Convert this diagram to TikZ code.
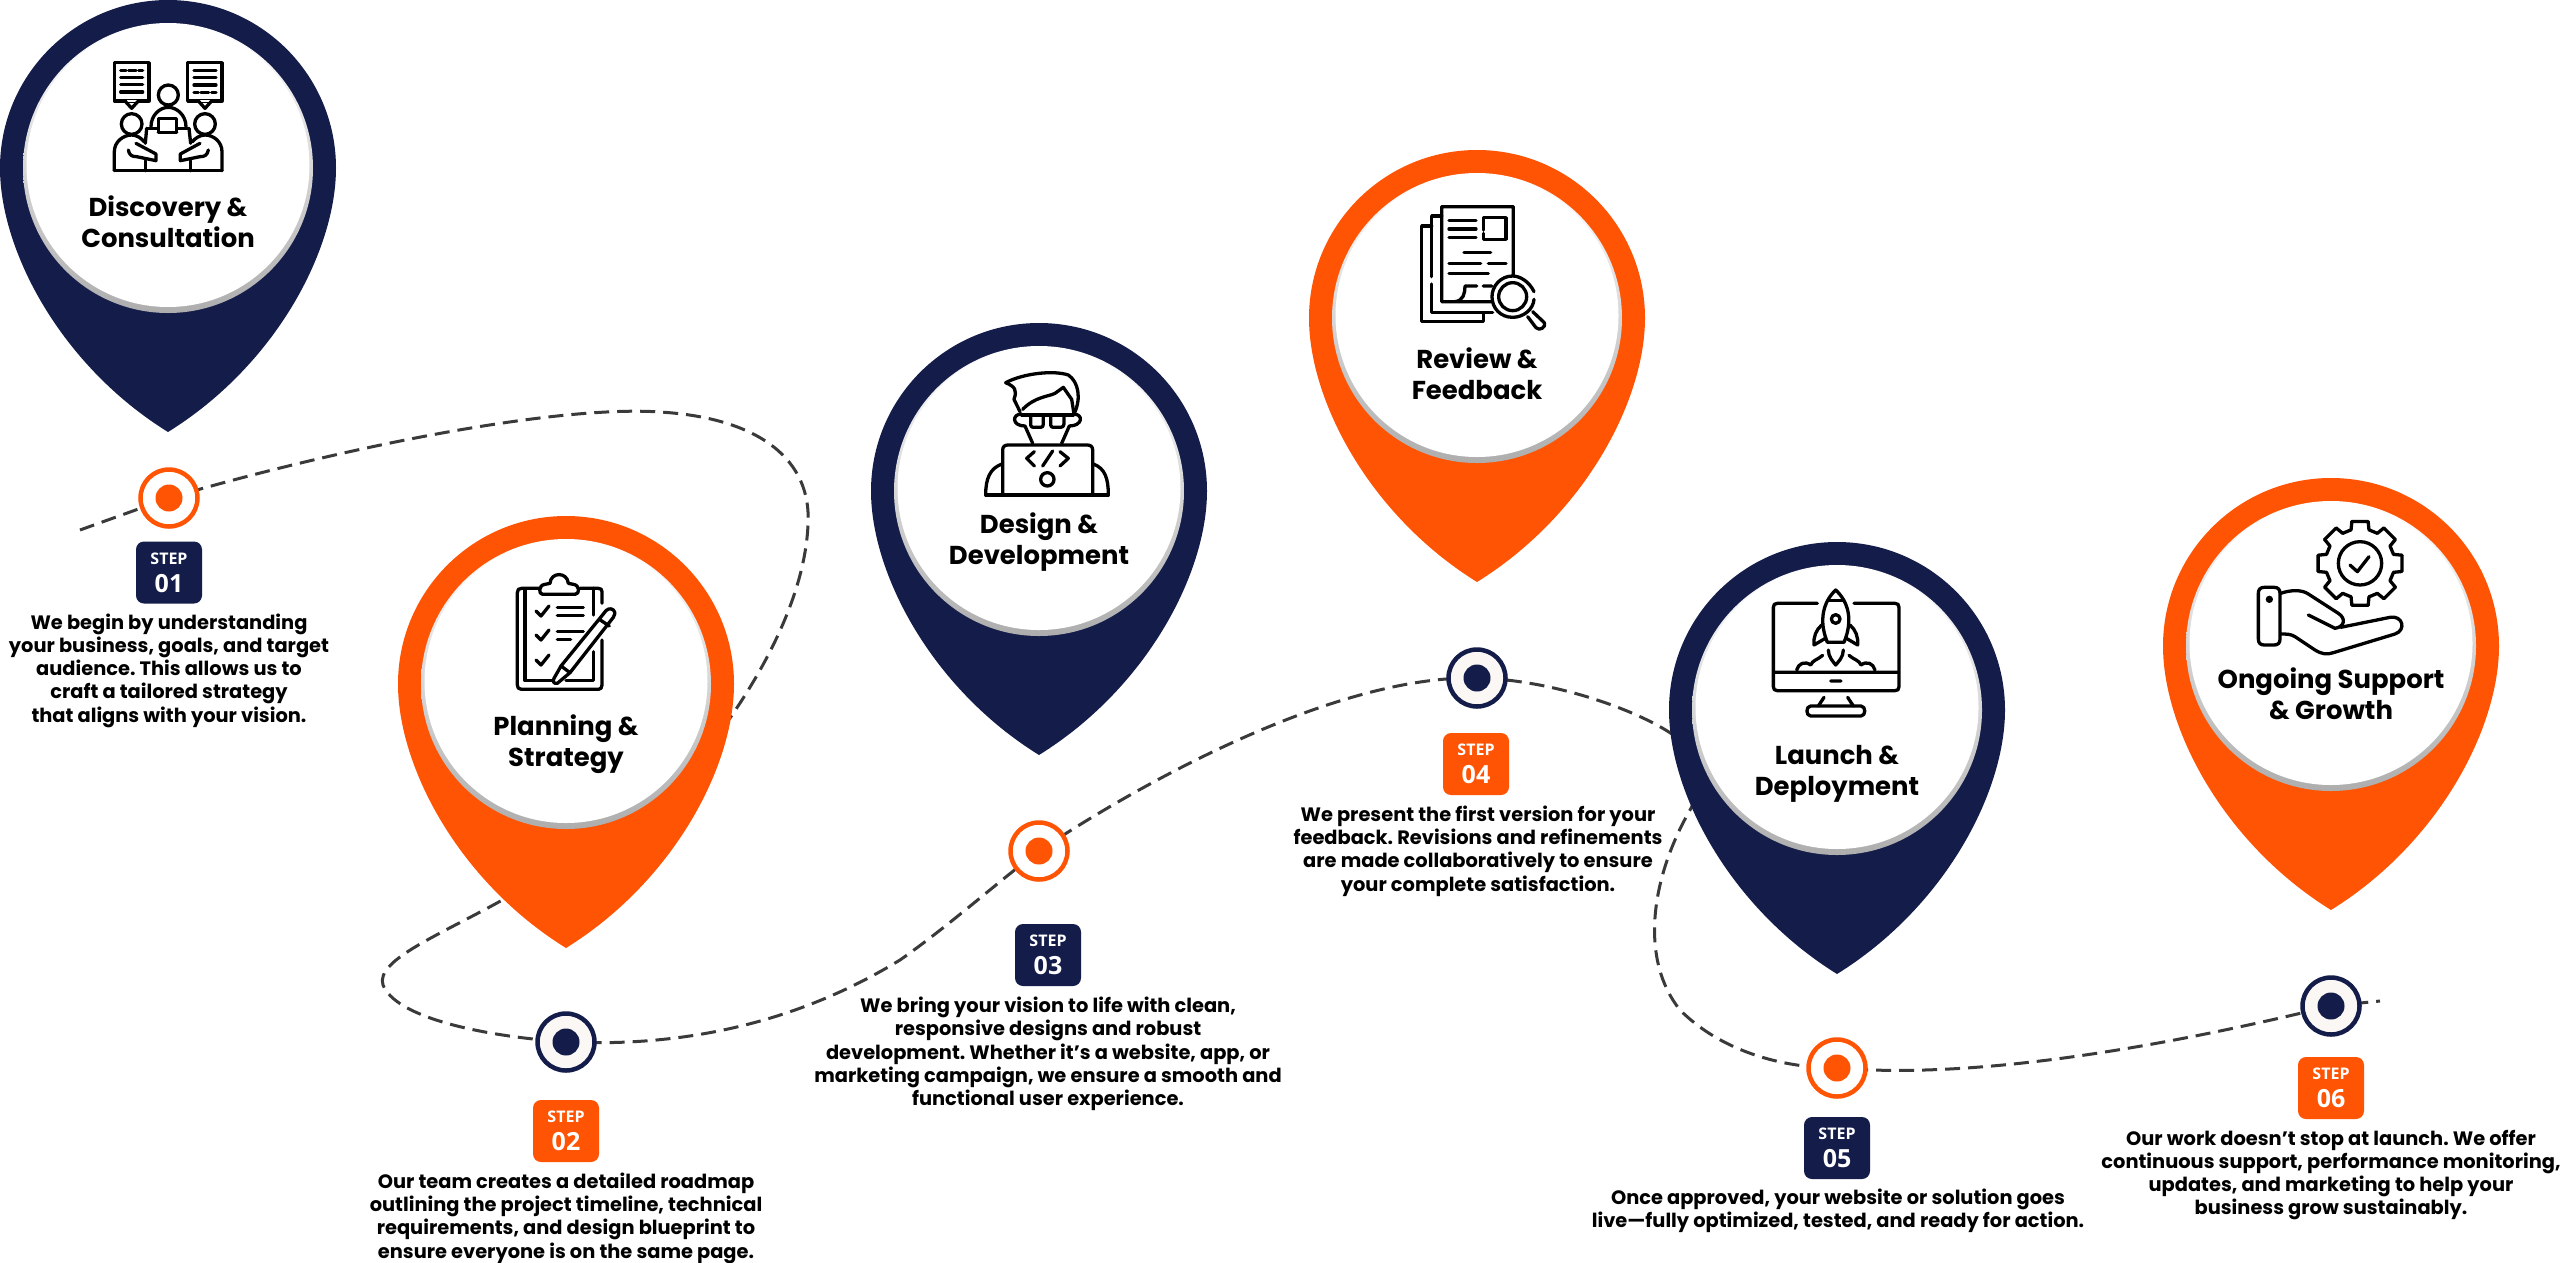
\documentclass[tikz,border=0pt]{standalone}
\usepackage{fontspec}
\setmainfont{Poppins}
\newfontfamily\badgefont{Open Sans}
\usetikzlibrary{backgrounds}
\definecolor{navy}{HTML}{141D4A}
\definecolor{flame}{HTML}{FF5404}
\definecolor{dashgrey}{HTML}{3A3A3A}
\definecolor{dotpaper}{HTML}{FAF7F5}
\tikzset{
  x=1pt,y=-1pt,
  ticon/.style={line width=3.3pt,line cap=round,line join=round,draw=black},
  iconfine/.style={x=0.33333pt,y=-0.33333pt},
  pintitle/.style={align=center,inner sep=0pt,text=black,font=\fontsize{25.9}{31}\selectfont\bfseries\frenchspacing},
  bodytext/.style={align=center,inner sep=0pt,text=black,font=\fontsize{19.4}{23.3}\selectfont\bfseries\frenchspacing},
  stepbadge/.style={rounded corners=8pt,minimum width=66pt,minimum height=62pt,inner sep=0pt,fill=#1,text=white,align=center},
  ringdot/.style={circle,draw=#1,line width=4.5pt,minimum size=57pt,inner sep=0pt},
  coredot/.style={circle,fill=#1,minimum size=27pt,inner sep=0pt},
  trail/.style={draw=dashgrey,line width=3pt,dash pattern=on 15pt off 8pt}
}
\newcommand{\mypin}[3]{%
  \begin{scope}[shift={(#1,#2)}]
    \fill[#3] (-168,0) .. controls (-168,-92.8) and (-92.8,-168) .. (0,-168)
      .. controls (92.8,-168) and (168,-92.8) .. (168,0)
      .. controls (168,82) and (108,197) .. (0,264)
      .. controls (-108,197) and (-168,82) .. (-168,0) -- cycle;
    \shade[top color=white,middle color=white!92!black,bottom color=black!32] (0,0) circle[radius=145];
    \fill[white] (0,-2.5) circle[radius=141.5];
  \end{scope}}
\newcommand{\stepbadgetext}[1]{\badgefont\bfseries\fontsize{16}{17}\selectfont STEP\\[9pt]\badgefont\bfseries\fontsize{25}{25}\selectfont #1}
\begin{document}
\begin{tikzpicture}
\useasboundingbox (0,0) rectangle (2560,1262);
% pins
\mypin{168}{168}{navy}
\mypin{566}{684}{flame}
\mypin{1039}{491}{navy}
\mypin{1477}{318}{flame}
\mypin{1837}{710}{navy}
\mypin{2331}{646}{flame}
% titles
\node[pintitle] (t1) at (168,222) {Discovery \&\\Consultation};
\node[pintitle] (t2) at (566,744) {Planning \&\\Strategy};
\node[pintitle] (t3) at (1039,542) {Design \&\\Development};
\node[pintitle] (t4) at (1477,374) {Review \&\\Feedback};
\node[pintitle] (t5) at (1837,774) {Launch \&\\Deployment};
\node[pintitle] (t6) at (2331,694) {Ongoing Support\\\& Growth};
% icon 1
\begin{scope}[shift={(0,0)},iconfine]
\draw[ticon] (343,188) rectangle (447,303);
\fill[white] (380,300) rectangle (410,306);
\draw[ticon] (375,303) -- (395,325) -- (415,303);
\draw[ticon] (362,212) -- (378,212) (386,212) -- (408,212) (416,212) -- (428,212)
  (362,232) -- (428,232) (362,254) -- (428,254) (362,276) -- (428,276);
\draw[ticon] (563,188) rectangle (666,303);
\fill[white] (600,300) rectangle (630,306);
\draw[ticon] (595,303) -- (615,325) -- (635,303);
\draw[ticon] (582,212) -- (648,212) (582,232) -- (648,232) (582,255) -- (648,255)
  (582,278) -- (595,278) (603,278) -- (626,278) (635,278) -- (648,278);
\draw[ticon] (505,285) circle[radius=30];
\draw[ticon] (453,380) .. controls (453,345) and (480,322) .. (505,322) .. controls (530,322) and (558,345) .. (558,380);
\draw[ticon] (475,355) -- (530,355) -- (530,397) -- (475,397) -- cycle;
\draw[ticon] (440,385) -- (470,385) (535,385) -- (567,385) (475,397) -- (530,397);
\draw[ticon] (440,385) -- (436,430) (567,385) -- (572,430);
\draw[ticon] (395,372) circle[radius=31];
\draw[ticon] (615,372) circle[radius=31];
\draw[ticon] (343,512) -- (343,455) .. controls (343,425) and (370,405) .. (395,405) .. controls (410,405) and (425,415) .. (432,425);
\draw[ticon] (666,512) -- (666,455) .. controls (666,425) and (640,405) .. (615,405) .. controls (600,405) and (585,415) .. (577,425);
\draw[ticon] (343,512) -- (666,512);
\draw[ticon] (385,450) .. controls (388,465) and (395,470) .. (410,470) -- (468,482) -- (468,462) -- (408,430);
\draw[ticon] (625,450) .. controls (622,465) and (615,470) .. (600,470) -- (541,482) -- (541,462) -- (600,430);
\draw[ticon] (436,482) -- (436,512) (572,482) -- (572,512);
\end{scope}
% icon 2
\begin{scope}[shift={(480,540)},iconfine]
\draw[ticon] (366,190) -- (366,155) .. controls (366,148) and (362,145) .. (355,145) -- (300,145);
\draw[ticon] (178,145) -- (125,145) .. controls (116,145) and (112,149) .. (112,158) -- (112,435) .. controls (112,444) and (116,448) .. (125,448) -- (355,448) .. controls (362,448) and (366,444) .. (366,435) -- (366,300);
\draw[ticon] (178,145) -- (135,145) -- (135,422) -- (218,422);
\draw[ticon] (258,422) -- (340,422) -- (340,335);
\draw[ticon] (340,145) -- (340,225);
\draw[ticon] (188,163) -- (285,163) .. controls (300,163) and (300,135) .. (280,133) -- (265,130) .. controls (262,95) and (212,95) .. (210,130) -- (195,133) .. controls (175,135) and (175,163) .. (188,163) -- cycle;
\draw[ticon] (168,213) -- (183,228) -- (207,198) (168,285) -- (183,300) -- (207,270) (168,360) -- (183,375) -- (207,345);
\draw[ticon] (232,203) -- (310,203) (232,227) -- (310,227) (232,275) -- (310,275) (232,298) -- (272,298);
\draw[ticon] (370,222) .. controls (380,205) and (392,203) .. (400,210) .. controls (407,217) and (405,225) .. (400,232) -- (270,398) -- (232,430) .. controls (222,432) and (217,425) .. (222,415) -- (243,378) -- cycle;
\draw[ticon] (243,378) -- (270,398) (358,238) -- (388,258);
\end{scope}
% icon 3
\begin{scope}[shift={(940,340)},iconfine]
\draw[ticon] (197,128) .. controls (250,100) and (340,90) .. (385,105) .. controls (415,125) and (425,175) .. (402,222);
\draw[ticon] (197,128) .. controls (225,140) and (232,150) .. (222,178) -- (240,215);
\draw[ticon] (248,208) .. controls (285,170) and (325,170) .. (345,160) -- (370,142) -- (395,178) -- (402,222);
\draw[ticon] (245,225) -- (400,225);
\draw[ticon] (272,225) -- (272,255) .. controls (272,260) and (276,262) .. (280,262) -- (302,262) .. controls (308,262) and (310,258) .. (310,252) -- (310,225);
\draw[ticon] (332,225) -- (332,255) .. controls (332,260) and (336,262) .. (340,262) -- (362,262) .. controls (368,262) and (372,258) .. (372,252) -- (372,225);
\draw[ticon] (245,222) .. controls (215,222) and (215,258) .. (255,258) -- (278,310);
\draw[ticon] (400,222) .. controls (432,222) and (428,258) .. (388,258) -- (365,310);
\draw[ticon] (188,465) -- (188,330) .. controls (188,320) and (194,315) .. (204,315) -- (442,315) .. controls (452,315) and (458,320) .. (458,330) -- (458,465);
\draw[ticon] (137,465) -- (505,465);
\draw[ticon] (186,372) .. controls (150,385) and (137,415) .. (137,465);
\draw[ticon] (460,372) .. controls (495,385) and (505,415) .. (505,465);
\draw[ticon] (283,335) -- (260,355) -- (283,378) (360,335) -- (385,355) -- (360,378) (338,333) -- (308,378);
\draw[ticon] (322,418) circle[radius=20];
\end{scope}
% icon 4
\begin{scope}[shift={(1380,180)},iconfine]
\draw[ticon] (400,285) -- (400,80) -- (185,80) -- (185,365) -- (225,365) .. controls (250,362) and (255,340) .. (255,318) -- (290,318) (310,318) -- (335,318) (225,365) -- (335,365);
\draw[ticon] (185,108) -- (155,108) -- (155,290) (155,312) -- (155,397) -- (338,397);
\draw[ticon] (155,138) -- (125,138) -- (125,425) -- (310,425) -- (310,400);
\draw[ticon] (207,122) -- (288,122) (207,147) -- (288,147) (207,172) -- (288,172);
\draw[ticon] (310,150) -- (310,113) -- (378,113) -- (378,178) -- (310,178) -- (310,160);
\draw[ticon] (252,218) -- (332,218) (207,250) -- (302,250) (325,250) -- (378,250) (207,280) -- (325,280);
\draw[ticon] (398,350) circle[radius=42];
\draw[ticon] (462,335) .. controls (448,305) and (420,288) .. (398,288) .. controls (362,288) and (336,318) .. (336,350) .. controls (336,385) and (362,412) .. (398,412) .. controls (430,412) and (460,388) .. (462,358);
\draw[ticon] (443,410) -- (468,443) .. controls (478,455) and (500,440) .. (493,428) -- (458,395);
\end{scope}
% icon 5
\begin{scope}[shift={(1740,570)},iconfine]
\draw[ticon] (232,100) -- (112,100) .. controls (104,100) and (100,104) .. (100,112) -- (100,350) .. controls (100,358) and (104,362) .. (112,362) -- (465,362) .. controls (473,362) and (477,358) .. (477,350) -- (477,112) .. controls (477,104) and (473,100) .. (465,100) -- (342,100);
\draw[ticon] (103,307) -- (475,307) (272,333) -- (303,333) (252,382) -- (235,408) (323,382) -- (340,408);
\draw[ticon] (212,408) -- (363,408) .. controls (378,408) and (378,438) .. (363,438) -- (212,438) .. controls (197,438) and (197,408) .. (212,408) -- cycle;
\draw[ticon] (287,60) .. controls (250,95) and (235,150) .. (262,217) -- (312,217) .. controls (340,150) and (325,95) .. (287,60) -- cycle;
\draw[ticon] (264,92) -- (310,92);
\draw[ticon] (287,147) circle[radius=13];
\draw[ticon] (245,165) .. controls (228,180) and (220,200) .. (222,225) -- (256,205);
\draw[ticon] (330,165) .. controls (347,180) and (355,200) .. (353,225) -- (319,205);
\draw[ticon] (265,240) .. controls (265,262) and (280,275) .. (287,285) .. controls (295,275) and (310,262) .. (310,240);
\draw[ticon] (170,300) .. controls (175,280) and (195,272) .. (212,285) .. controls (218,270) and (232,270) .. (248,256);
\draw[ticon] (405,300) .. controls (400,280) and (380,272) .. (363,285) .. controls (357,270) and (343,270) .. (327,256);
\end{scope}
% icon 6
\begin{scope}[shift={(2220,510)},iconfine]
\begin{scope}[shift={(420,160)}]
\foreach \a in {0,45,...,315}{
  \draw[ticon] (\a-11:128) -- (\a+11:128) -- (\a+15:104) -- (\a+30:104) -- (\a+34:128);
}
\draw[ticon] (0,0) circle[radius=65];
\end{scope}
\draw[ticon] (390,165) -- (412,185) -- (447,140);
\draw[ticon] (133,232) -- (162,232) .. controls (174,232) and (180,238) .. (180,250) -- (180,387) .. controls (180,399) and (174,405) .. (162,405) -- (133,405) .. controls (121,405) and (115,399) .. (115,387) -- (115,250) .. controls (115,238) and (121,232) .. (133,232) -- cycle;
\fill[black] (148,268) circle[radius=11];
\draw[ticon] (182,250) .. controls (210,240) and (245,238) .. (265,252) -- (355,310) .. controls (378,325) and (375,350) .. (345,355) -- (265,315);
\draw[ticon] (362,352) -- (510,322) .. controls (548,315) and (560,360) .. (525,372) -- (340,428) .. controls (320,435) and (305,432) .. (285,420) -- (225,380) .. controls (212,372) and (200,372) .. (182,372);
\end{scope}
% dots
\node[ringdot=flame,fill=white] (d1) at (169,498) {};
\node[ringdot=navy,fill=dotpaper] (d2) at (566,1042) {};
\node[ringdot=flame,fill=white] (d3) at (1039,851) {};
\node[ringdot=navy,fill=dotpaper] (d4) at (1477,678) {};
\node[ringdot=flame,fill=white] (d5) at (1837,1068) {};
\node[ringdot=navy,fill=dotpaper] (d6) at (2331,1006) {};
\node[coredot=flame] (c1) at (d1) {};
\node[coredot=navy] (c2) at (d2) {};
\node[coredot=flame] (c3) at (d3) {};
\node[coredot=navy] (c4) at (d4) {};
\node[coredot=flame] (c5) at (d5) {};
\node[coredot=navy] (c6) at (d6) {};
% badges
\node[stepbadge=navy] (b1) at (169,572.5) {\stepbadgetext{01}};
\node[stepbadge=flame] (b2) at (566,1131) {\stepbadgetext{02}};
\node[stepbadge=navy] (b3) at (1048,955) {\stepbadgetext{03}};
\node[stepbadge=flame] (b4) at (1476,764) {\stepbadgetext{04}};
\node[stepbadge=navy] (b5) at (1837,1148) {\stepbadgetext{05}};
\node[stepbadge=flame] (b6) at (2331,1088) {\stepbadgetext{06}};
% descriptions
\node[bodytext] (x1) at (169,670.5) {We begin by understanding\\your business, goals, and target\\audience. This allows us to\\craft a tailored strategy\\that aligns with your vision.};
\node[bodytext] (x2) at (566,1218) {Our team creates a detailed roadmap\\outlining the project timeline, technical\\requirements, and design blueprint to\\ensure everyone is on the same page.};
\node[bodytext] (x3) at (1048,1054) {We bring your vision to life with clean,\\responsive designs and robust\\development. Whether it’s a website, app, or\\marketing campaign, we ensure a smooth and\\functional user experience.};
\node[bodytext] (x4) at (1478,851) {We present the first version for your\\feedback. Revisions and refinements\\are made collaboratively to ensure\\your complete satisfaction.};
\node[bodytext] (x5) at (1838,1211) {Once approved, your website or solution goes\\live—fully optimized, tested, and ready for action.};
\node[bodytext] (x6) at (2331,1175) {Our work doesn’t stop at launch. We offer\\continuous support, performance monitoring,\\updates, and marketing to help your\\business grow sustainably.};
% connector
\coordinate (trailstart) at (80,530);
\coordinate (trailend) at (2380,1001);
\begin{scope}[on background layer]
\fill[white] (0,0) rectangle (2560,1262);
\draw[trail] (trailstart) -- (d1.center)
  .. controls (350,445) and (560,405) .. (660,412)
  .. controls (760,418) and (812,460) .. (808,525)
  .. controls (805,590) and (770,660) .. (730,718)
  .. controls (680,790) and (590,850) .. (506,898)
  .. controls (440,935) and (375,960) .. (383,985)
  .. controls (395,1015) and (470,1035) .. (d2.center)
  .. controls (700,1048) and (810,1015) .. (900,960)
  .. controls (950,925) and (1000,880) .. (d3.center)
  .. controls (1130,790) and (1330,675) .. (d4.center)
  .. controls (1560,680) and (1650,715) .. (1680,740)
  .. controls (1720,770) and (1700,790) .. (1690,810)
  .. controls (1650,880) and (1640,960) .. (1680,1010)
  .. controls (1720,1050) and (1780,1068) .. (d5.center)
  .. controls (1980,1080) and (2170,1045) .. (d6.center)
  -- (trailend);
\end{scope}
\end{tikzpicture}
\end{document}
